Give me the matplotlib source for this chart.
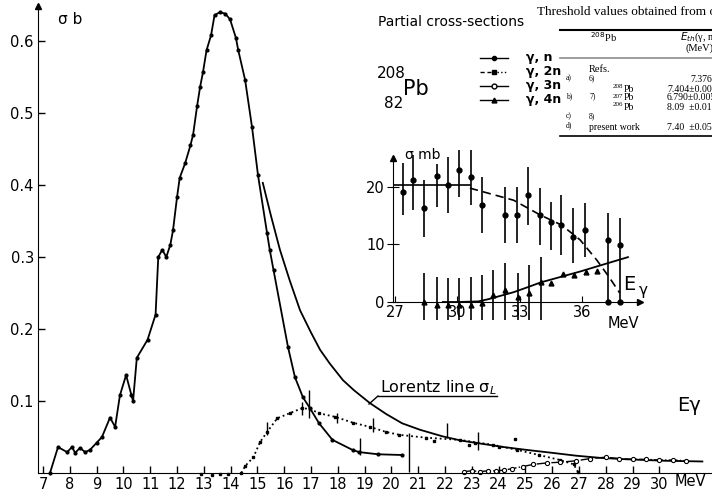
import numpy as np
import matplotlib.pyplot as plt

# main plot: sigma in barn vs E_gamma in MeV
gn_E = [7.26, 7.56, 7.9, 8.08, 8.2, 8.38, 8.57, 8.75, 9.0, 9.2, 9.5, 9.69, 9.87, 10.1, 10.3, 10.36,
        10.5, 10.9, 11.2, 11.3, 11.45, 11.6, 11.75, 11.85, 12.0, 12.1, 12.3, 12.5, 12.6, 12.75,
        12.86, 12.97, 13.1, 13.27, 13.4, 13.6, 13.8, 13.98, 14.2, 14.28, 14.54, 14.8, 15.02,
        15.36, 15.46, 15.6, 16.14, 16.4, 16.7, 16.96, 17.3, 17.8, 18.55, 18.8, 19.5, 20.4]
gn_s = [0.0, 0.036, 0.029, 0.036, 0.028, 0.035, 0.029, 0.032, 0.042, 0.05, 0.077, 0.064, 0.108,
        0.136, 0.108, 0.10, 0.16, 0.185, 0.22, 0.30, 0.31, 0.30, 0.317, 0.337, 0.383, 0.41, 0.43,
        0.455, 0.47, 0.51, 0.536, 0.557, 0.587, 0.608, 0.636, 0.64, 0.638, 0.63, 0.604, 0.588,
        0.546, 0.48, 0.414, 0.333, 0.31, 0.282, 0.175, 0.133, 0.105, 0.09, 0.069, 0.046, 0.032,
        0.029, 0.026, 0.025]

g2_E = [14.4, 14.55, 14.85, 15.1, 15.36, 15.74, 16.2, 16.66, 16.96, 17.3, 17.9, 18.55, 19.2,
        19.8, 20.3, 21.3, 22.56, 23.8, 24.7, 25.5, 26.3, 26.8, 26.95]
g2_s = [0.0, 0.01, 0.022, 0.043, 0.057, 0.076, 0.083, 0.090, 0.089, 0.083, 0.078, 0.07, 0.064,
        0.057, 0.053, 0.049, 0.046, 0.039, 0.032, 0.025, 0.018, 0.012, 0.002]
g2_pts_E = [12.9, 13.3, 13.6, 13.9, 21.6, 22.9, 23.1, 24.0, 24.6]
g2_pts_s = [-0.002, -0.003, -0.001, -0.002, 0.044, 0.039, 0.041, 0.036, 0.047]

bar_E = [15.36, 16.66, 16.92, 17.97, 18.83, 19.3, 20.66, 22.07, 23.23]
bar_lo = [0.053, 0.081, 0.076, 0.069, 0.025, 0.057, 0.001, 0.049, 0.032]
bar_hi = [0.071, 0.099, 0.115, 0.083, 0.049, 0.076, 0.055, 0.069, 0.057]

g3_E = [22.7, 23.0, 23.3, 23.6, 23.9, 24.2, 24.5, 24.9, 25.3, 25.8, 26.3, 26.9, 27.4, 28.0,
        28.5, 29.0, 29.5, 30.0, 30.5, 31.0]
g3_s = [0.002, 0.003, 0.002, 0.003, 0.003, 0.004, 0.006, 0.009, 0.012, 0.014, 0.015, 0.017,
        0.02, 0.022, 0.02, 0.019, 0.019, 0.018, 0.018, 0.017]

lor_E = [15.2, 15.5, 15.84, 16.2, 16.59, 17.0, 17.34, 17.7, 18.19, 18.6, 19.2, 19.8, 20.4,
         21.07, 21.9, 22.6, 23.3, 24.2, 25.06, 26.0, 26.9, 27.8, 28.8, 30.2, 31.6]
lor_s = [0.403, 0.358, 0.310, 0.268, 0.226, 0.195, 0.171, 0.152, 0.129, 0.115, 0.097, 0.082,
         0.069, 0.060, 0.051, 0.045, 0.041, 0.036, 0.032, 0.028, 0.024, 0.021, 0.019, 0.017,
         0.016]

# inset: sigma in mb
in3_E = [27.37, 27.88, 28.41, 29.0, 29.56, 30.1, 30.65, 31.2, 32.3, 32.85, 33.4, 33.97, 34.5,
         35.0, 35.57, 36.13, 37.26, 37.8]
in3_s = [19.2, 21.2, 16.3, 21.9, 20.3, 23.0, 21.7, 16.9, 15.1, 15.1, 18.6, 15.1, 13.9, 13.4,
         11.3, 12.5, 10.8, 9.9]
in3_hi = [24.2, 25.5, 21.2, 24.0, 25.2, 27.8, 26.8, 21.7, 20.0, 20.0, 23.5, 19.8, 17.4, 18.6,
          16.3, 17.2, 15.5, 14.6]
in3_lo = [15.1, 16.0, 11.3, 16.5, 15.5, 18.2, 16.9, 12.0, 10.3, 10.3, 13.4, 9.9, 9.0, 8.2,
          6.8, 7.8, 0.0, 0.0]
in3_fit_E = [30.6, 31.5, 32.7, 34.0, 35.0, 35.9, 36.7, 37.3, 37.8]
in3_fit_s = [19.8, 18.9, 17.7, 15.1, 13.4, 10.8, 7.3, 4.3, 1.6]

in4_E = [28.41, 29.0, 29.56, 30.1, 30.65, 31.2, 31.7, 32.3, 32.9, 33.45, 34.0, 34.5, 35.1,
         35.6, 36.2, 36.7, 37.26, 37.8]
in4_s = [0.0, -0.5, -0.5, -0.5, -0.5, -0.2, 1.2, 2.1, 0.9, 1.5, 3.5, 3.3, 4.8, 4.7, 5.2, 5.4,
         0.0, 0.0]
in4_hi = [5.0, 4.3, 4.2, 4.2, 4.3, 4.7, 5.6, 6.8, 5.0, 6.4, 7.8]
in4_fit_E = [29.3, 30.0, 31.0, 31.5, 32.0, 32.7, 33.4, 34.0, 35.0, 35.9, 37.0, 38.2]
in4_fit_s = [0, 0, 0.1, 0.5, 1.0, 1.7, 2.6, 3.4, 4.4, 5.3, 6.5, 7.8]

W, H = 712, 492
fig = plt.figure(figsize=(W / 100, H / 100), dpi=100)


def px(x0, y0, w, h):
    return [x0 / W, 1 - (y0 + h) / H, w / W, h / H]


ax = fig.add_axes(px(38, 0, 674, 482))
ax.set_facecolor('none')
ax.set_xlim(6.813, 31.96)
ax.set_ylim(-0.0125, 0.657)
for s in ['top', 'right']:
    ax.spines[s].set_visible(False)
ax.spines['bottom'].set_position(('data', 0))
ax.spines['left'].set_bounds(0, 0.648)
ax.set_xticks(range(7, 31))
ax.set_yticks([0.1, 0.2, 0.3, 0.4, 0.5, 0.6])
ax.set_yticklabels(['0.1', '0.2', '0.3', '0.4', '0.5', '0.6'])
ax.tick_params(direction='in', length=5, width=1, labelsize=10.5, pad=3)
ax.plot([6.813], [0.648], marker='^', color='k', ms=5, clip_on=False)

ax.plot(gn_E, gn_s, '-', color='k', lw=1.3, marker='o', ms=2)
ax.plot(lor_E, lor_s, '-', color='k', lw=1.3)
ax.plot(g2_E, g2_s, ':', color='k', lw=1.3, marker='s', ms=1.8)
ax.plot(g2_pts_E, g2_pts_s, 's', color='k', ms=1.8, clip_on=False)
ax.vlines(bar_E, bar_lo, bar_hi, color='k', lw=1)
ax.plot(g3_E, g3_s, '-.', color='k', lw=1, marker='o', ms=3, mfc='white', mew=0.8)

ax.text(31.14, -0.012, 'MeV', fontsize=10.5, ha='center', va='center')
ax.text(31.1, 0.094, 'Eγ', fontsize=14, ha='center', va='center')
ax.text(0.03, 0.96, 'σ b', transform=ax.transAxes, fontsize=11, va='center')

# inset
ins = fig.add_axes(px(393, 150, 252, 170))
ins.set_facecolor('none')
ins.set_xlim(26.904, 39.02)
ins.set_ylim(-3.13, 26.43)
for s in ['top', 'right']:
    ins.spines[s].set_visible(False)
ins.spines['bottom'].set_position(('data', 0))
ins.spines['bottom'].set_bounds(26.904, 38.8)
ins.spines['left'].set_bounds(0, 25.0)
ins.set_xticks([27, 30, 33, 36])
ins.set_yticks([0, 10, 20])
ins.tick_params(axis='x', direction='in', length=4, labelsize=10.5, pad=2)
ins.tick_params(axis='y', direction='inout', length=8, labelsize=10.5, pad=2)
ins.plot([26.904], [25.0], marker='^', color='k', ms=5, clip_on=False)
ins.plot([38.8], [0], marker='>', color='k', ms=5, clip_on=False)

ins.vlines(in3_E, in3_lo, in3_hi, color='k', lw=1.2)
ins.plot(in3_E, in3_s, 'o', color='k', ms=3.5)
ins.plot([26.95, 30.6], [20.3, 20.3], '-', color='k', lw=1.2)
ins.plot(in3_fit_E, in3_fit_s, '--', color='k', lw=1.2, dashes=(5, 3))
ins.vlines(in4_E[:len(in4_hi)], -3.1, in4_hi, color='k', lw=1.2)
ins.plot(in4_E[:-2], in4_s[:-2], '^', color='k', ms=3.5, clip_on=False)
ins.plot(in4_E[-2:], in4_s[-2:], 'o', color='k', ms=3.5, clip_on=False)
ins.plot(in4_fit_E, in4_fit_s, '-', color='k', lw=1.3)
ins.text(37.96, -2.4, 'MeV', fontsize=10.5, ha='center', va='top')
ins.text(37.95, 3.0, 'E', fontsize=14, ha='left', va='center')
ins.text(38.7, 2.0, 'γ', fontsize=11, ha='left', va='center')
ins.text(27.5, 25.6, 'σ mb', fontsize=10, ha='left', va='center')

# overlay in pixel coordinates: legend, labels, table
ov = fig.add_axes([0, 0, 1, 1])
ov.set_xlim(0, W)
ov.set_ylim(H, 0)
ov.axis('off')

ov.text(378, 22, 'Partial cross-sections', fontsize=10, va='center')
ov.text(377, 74, '208', fontsize=11, va='center')
ov.text(403, 89, 'Pb', fontsize=15, va='center')
ov.text(384, 103, '82', fontsize=11, va='center')

leg_y = [58, 72, 86, 100]
leg_lab = ['γ, n', 'γ, 2n', 'γ, 3n', 'γ, 4n']
ov.plot([480, 508], [leg_y[0]] * 2, '-', color='k', lw=1)
ov.plot([494], [leg_y[0]], 'o', color='k', ms=3)
ov.plot([480, 491], [leg_y[1]] * 2, '--', color='k', lw=1, dashes=(3, 2))
ov.plot([494], [leg_y[1]], 's', color='k', ms=2.5)
ov.plot([497, 508], [leg_y[1]] * 2, ':', color='k', lw=1)
ov.plot([480, 508], [leg_y[2]] * 2, '-', color='k', lw=1)
ov.plot([494], [leg_y[2]], 'o', color='k', ms=3.5, mfc='white')
ov.plot([480, 508], [leg_y[3]] * 2, '-', color='k', lw=1)
ov.plot([494], [leg_y[3]], '^', color='k', ms=3.5)
for y, lab in zip(leg_y, leg_lab):
    ov.text(526, y, lab, fontsize=9, fontweight='bold', va='center')

ov.text(380, 388, 'Lorentz line σ$_L$', fontsize=11.5, va='center')
ov.plot([378, 497], [396, 396], '-', color='k', lw=1)
ov.plot([378, 369], [396, 404], '-', color='k', lw=1)

serif = ['Liberation Serif', 'DejaVu Serif']
ov.text(537, 12, 'Threshold values obtained from our ²⁰⁸Pb measurements',
        fontsize=9.5, family=serif, va='center')
ov.plot([560, 712], [30, 30], '-', color='k', lw=1.5)
ov.plot([560, 712], [58, 58], '-', color='0.55', lw=1.2)
ov.plot([560, 712], [136, 136], '-', color='k', lw=1.2)
ov.text(590, 37, '$^{208}$Pb', fontsize=7.5, family=serif, va='center')
ov.text(680, 37, '$E_{th}$(γ, n)', fontsize=7.5, family=serif, va='center')
ov.text(685, 48, '(MeV)', fontsize=7.5, family=serif, va='center')
ov.text(589, 70, 'Refs.', fontsize=7.5, family=serif, va='center')
rows = [
    (80, 'a)', '6)', '', '7.376'),
    (89, '', '', '208', '7.404±0.005'),
    (98, 'b)', '7)', '207', '6.790±0.005'),
    (107, '', '', '206', '8.09  ±0.01'),
    (118, 'c)', '8)', '', ''),
    (127, 'd)', '', '', '7.40  ±0.05'),
]
for y, a, r, iso, val in rows:
    ov.text(566, y - 2, a, fontsize=5.5, family=serif, va='center')
    if r:
        ov.text(589, y - 2, r, fontsize=5.5, family=serif, va='center')
    if iso:
        ov.text(613, y - 2, iso, fontsize=5, family=serif, va='center')
        ov.text(624, y, 'Pb', fontsize=7, family=serif, va='center')
    x_val = 690 if val == '7.376' else 667
    ov.text(x_val, y, val, fontsize=7, family=serif, va='center')
ov.text(589, 127, 'present work', fontsize=7, family=serif, va='center')

fig.savefig('out.png', dpi=100)
